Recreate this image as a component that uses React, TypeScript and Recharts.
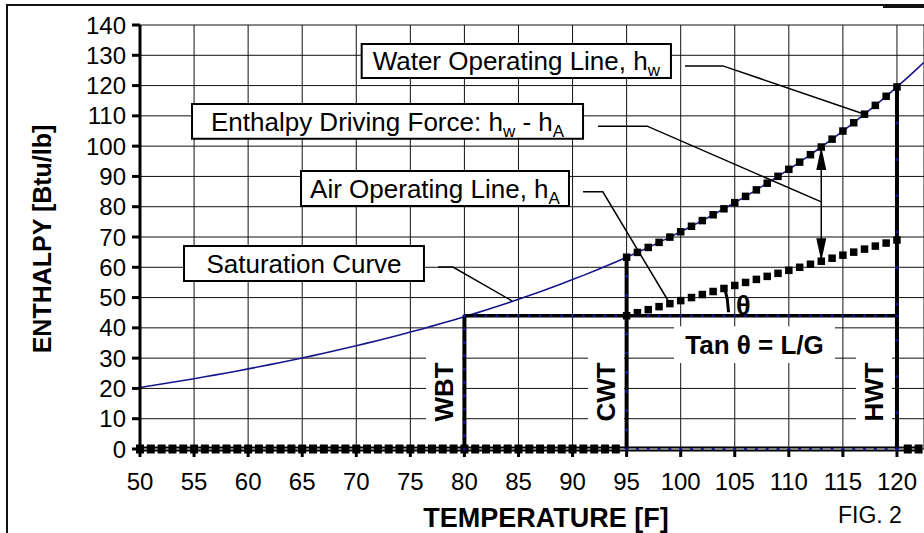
import React from 'react';
import { LineChart, Line, XAxis, YAxis, CartesianGrid, ReferenceArea, ReferenceDot, Label } from 'recharts';

const FONT = '"Liberation Sans", Arial, Helvetica, sans-serif';
const NAVY = '#16168c';

// temperature categories, deg F
const TEMPS = [
  50, 51, 52, 53, 54, 55, 56, 57, 58, 59, 60, 61, 62, 63, 64, 65, 66, 67, 68, 69,
  70, 71, 72, 73, 74, 75, 76, 77, 78, 79, 80, 81, 82, 83, 84, 85, 86, 87, 88, 89,
  90, 91, 92, 93, 94, 95, 96, 97, 98, 99, 100, 101, 102, 103, 104, 105, 106, 107, 108, 109,
  110, 111, 112, 113, 114, 115, 116, 117, 118, 119, 120, 121, 122,
];
const SAT_TEMPS = [...TEMPS, 122.5];
// saturation curve enthalpy, Btu/lb
const SAT_H = [
  20.3, 20.86, 21.44, 22.02, 22.61, 23.22, 23.84, 24.48, 25.12, 25.78,
  26.46, 27.15, 27.85, 28.57, 29.31, 30.06, 30.83, 31.62, 32.42, 33.25,
  34.09, 34.95, 35.83, 36.74, 37.66, 38.61, 39.57, 40.57, 41.58, 42.62,
  43.69, 44.78, 45.9, 47.04, 48.22, 49.43, 50.66, 51.93, 53.23, 54.56,
  55.93, 57.33, 58.78, 60.25, 61.77, 63.32, 64.92, 66.55, 68.23, 69.96,
  71.73, 73.55, 75.42, 77.34, 79.31, 81.34, 83.42, 85.56, 87.76, 90.03,
  92.34, 94.72, 97.18, 99.71, 102.31, 104.98, 107.73, 110.55, 113.46, 116.46,
  119.54, 122.7, 126.0, 127.7,
];

// water operating line, h_w
const WATER_T = [95, 96, 97, 98, 99, 100, 101, 102, 103, 104, 105, 106, 107, 108, 109, 110, 111, 112, 113, 114, 115, 116, 117, 118, 119, 120];
const WATER_H = [
  63.32, 64.92, 66.55, 68.23, 69.96, 71.73, 73.55, 75.42, 77.34, 79.31, 81.34, 83.42, 85.56,
  87.76, 90.03, 92.34, 94.72, 97.18, 99.71, 102.31, 104.98, 107.73, 110.55, 113.46, 116.46, 119.54,
];

// air operating line, h_A
const AIR_T = [95, 96, 97, 98, 99, 100, 101, 102, 103, 104, 105, 106, 107, 108, 109, 110, 111, 112, 113, 114, 115, 116, 117, 118, 119, 120];
const AIR_H = [44, 45, 46, 47, 48, 49, 50, 51, 52, 53, 54, 55, 56, 57, 58, 59, 60, 61, 62, 63, 64, 65, 66, 67, 68, 69];

const WBT = 80;
const CWT = 95;
const HWT = 120;
const WBT_H = 44;
const WBT_V_H = [0, 4.4, 8.8, 13.2, 17.6, 22, 26.4, 30.8, 35.2, 39.6, 44];
const CWT_V_H = [0, 6.3, 12.7, 19, 25.3, 31.7, 38, 44.3, 50.7, 57, 63.3];
const HWT_V_H = [0, 12, 23.9, 35.9, 47.8, 59.8, 71.7, 83.7, 95.6, 107.6, 119.5];

const X_TICKS = [50, 55, 60, 65, 70, 75, 80, 85, 90, 95, 100, 105, 110, 115, 120];
const Y_TICKS = [0, 10, 20, 30, 40, 50, 60, 70, 80, 90, 100, 110, 120, 130, 140];

const pts = (ts: number[], hs: number[]) => ts.map((t, i) => ({ t, h: hs[i] }));
const satData = pts(SAT_TEMPS, SAT_H);
const waterData = pts(WATER_T, WATER_H);
const airData = pts(AIR_T, AIR_H);
const baseData = TEMPS.map((t) => ({ t, h: 0 }));
const wbtLine = TEMPS.filter((t) => t >= WBT && t <= HWT).map((t) => ({ t, h: WBT_H }));
const vert = (t: number, hs: number[]) => hs.map((h) => ({ t, h }));

// annotation leaders (data coordinates)
const WATER_LEADER = [{ t: 100.4, h: 126.5 }, { t: 103.9, h: 126.5 }, { t: 117, h: 110.55 }];
const FORCE_LEADER = [{ t: 92.35, h: 106.6 }, { t: 96.9, h: 106.6 }, { t: 113, h: 81.6 }];
const AIR_LEADER = [{ t: 90.97, h: 84.9 }, { t: 92.8, h: 84.9 }, { t: 98.8, h: 49.2 }];
const SAT_LEADER = [{ t: 77.56, h: 60.1 }, { t: 78.94, h: 60.1 }, { t: 84.4, h: 48.9 }];
const ARROW = [{ t: 113, h: 99.71 }, { t: 113, h: 62 }];

const square = (prefix: string, size: number) => (p: any) => (
  <rect key={`${prefix}-${p.index}`} x={p.cx - size / 2} y={p.cy - size / 2} width={size} height={size} fill="#000" />
);
const blueDot = (prefix: string, only?: (t: number) => boolean) => (p: any) =>
  only && !only(p.payload.t) ? (
    <g key={`${prefix}-${p.index}`} />
  ) : (
    <circle key={`${prefix}-${p.index}`} cx={p.cx} cy={p.cy} r={1.6} fill={NAVY} />
  );
const baseSquare = (p: any) =>
  p.payload.t >= CWT && p.payload.t <= HWT ? (
    <g key={`bs-${p.index}`} />
  ) : (
    <rect key={`bs-${p.index}`} x={p.cx - 4} y={p.cy - 4.5} width={8} height={9} fill="#000" />
  );

const Sub = ({ children }: { children: string }) => (
  <tspan fontSize={17} dy={6}>
    {children}
  </tspan>
);

const boxLabel = (node: React.ReactNode, bold = false, rotate = false) => (props: any) => {
  const vb = props.viewBox;
  const cx = vb.x + vb.width / 2;
  const cy = vb.y + vb.height / 2;
  return (
    <text
      x={cx}
      y={cy}
      dy="0.36em"
      textAnchor="middle"
      fontFamily={FONT}
      fontSize={26}
      fontWeight={bold ? 'bold' : 'normal'}
      fill="#000"
      transform={rotate ? `rotate(-90 ${cx} ${cy})` : undefined}
    >
      {node}
    </text>
  );
};

const xTitle = (props: any) => {
  const vb = props.viewBox;
  return (
    <g fontFamily={FONT} fill="#000">
      <text x={vb.x + 406} y={vb.y + 78} textAnchor="middle" fontSize={27} fontWeight="bold">
        TEMPERATURE [F]
      </text>
      <text x={vb.x + 698} y={vb.y + 74} fontSize={23}>
        FIG. 2
      </text>
    </g>
  );
};

const yTitle = (props: any) => {
  const vb = props.viewBox;
  const cx = vb.x + 42;
  const cy = 239;
  return (
    <text x={cx} y={cy} dy="0.36em" textAnchor="middle" fontFamily={FONT} fontSize={25} fontWeight="bold" fill="#000" transform={`rotate(-90 ${cx} ${cy})`}>
      ENTHALPY [Btu/lb]
    </text>
  );
};

export default function App() {
  return (
    <div style={{ position: 'absolute', left: 0, top: 0, width: 924, height: 533, overflow: 'hidden', background: '#fff' }}>
      <div style={{ position: 'absolute', left: 6, top: 4, width: 930, height: 540, borderLeft: '2px solid #111', borderTop: '2px solid #111' }} />
      <div style={{ position: 'absolute', left: 883, top: 6, width: 45, height: 2, background: '#111' }} />
      <div style={{ position: 'absolute', left: 0, top: 0 }}>
        <LineChart width={924} height={533} margin={{ top: 25, right: 0, bottom: 0, left: 0 }}>
          <CartesianGrid stroke="#111" strokeWidth={1} />
          <XAxis
            type="number"
            dataKey="t"
            domain={[50, 122.5]}
            ticks={X_TICKS}
            interval={0}
            height={84}
            axisLine={false}
            tickLine={{ stroke: '#000', strokeWidth: 3 }}
            tickSize={8}
            tickMargin={16}
            tick={{ fontSize: 24, fill: '#000', fontFamily: FONT }}
          >
            <Label content={xTitle} />
          </XAxis>
          <YAxis
            type="number"
            domain={[0, 140]}
            ticks={Y_TICKS}
            interval={0}
            width={140}
            axisLine={{ stroke: '#000', strokeWidth: 3 }}
            tickLine={{ stroke: '#000', strokeWidth: 3 }}
            tickSize={8}
            tickMargin={6}
            tick={{ fontSize: 24, fill: '#000', fontFamily: FONT }}
          >
            <Label content={yTitle} />
          </YAxis>

          <ReferenceArea x1={70.5} x2={99.1} y1={122.5} y2={133.7} fill="#fff" fillOpacity={1} stroke="#000" strokeWidth={2}
            label={boxLabel(<>Water Operating Line, h<Sub>w</Sub></>)} />
          <ReferenceArea x1={54.81} x2={90.97} y1={102.4} y2={113.9} fill="#fff" fillOpacity={1} stroke="#000" strokeWidth={2}
            label={boxLabel(<>Enthalpy Driving Force: h<Sub>w</Sub><tspan dy={-6}> - h</tspan><Sub>A</Sub></>)} />
          <ReferenceArea x1={64.89} x2={89.67} y1={80.2} y2={91.8} fill="#fff" fillOpacity={1} stroke="#000" strokeWidth={2}
            label={boxLabel(<>Air Operating Line, h<Sub>A</Sub></>)} />
          <ReferenceArea x1={54.07} x2={76.26} y1={55.5} y2={67.0} fill="#fff" fillOpacity={1} stroke="#000" strokeWidth={2}
            label={boxLabel(<>Saturation Curve</>)} />
          <ReferenceArea x1={99.38} x2={114.27} y1={28.4} y2={40.5} fill="#fff" fillOpacity={1} stroke="none"
            label={boxLabel(<>Tan θ = L/G</>, true)} />
          <ReferenceArea x1={76.45} x2={79.78} y1={1.65} y2={36} fill="#fff" fillOpacity={1} stroke="none"
            label={boxLabel(<>WBT</>, true, true)} />
          <ReferenceArea x1={91.43} x2={94.76} y1={1.65} y2={36} fill="#fff" fillOpacity={1} stroke="none"
            label={boxLabel(<>CWT</>, true, true)} />
          <ReferenceArea x1={116.21} x2={119.54} y1={1.65} y2={36} fill="#fff" fillOpacity={1} stroke="none"
            label={boxLabel(<>HWT</>, true, true)} />

          <Line data={satData} dataKey="h" stroke={NAVY} strokeWidth={1.6} dot={false} isAnimationActive={false} />
          <Line data={baseData} dataKey="h" stroke="#000" strokeWidth={5} dot={baseSquare} isAnimationActive={false} />
          <Line data={baseData} dataKey="h" stroke="#fff" strokeWidth={1} dot={blueDot('bb', (t) => t >= CWT && t <= HWT)} isAnimationActive={false} />
          <Line data={wbtLine} dataKey="h" stroke="#000" strokeWidth={3.5} dot={blueDot('wl')} isAnimationActive={false} />
          <Line data={vert(WBT, WBT_V_H)} dataKey="h" stroke="#000" strokeWidth={4} dot={blueDot('wv')} isAnimationActive={false} />
          <Line data={vert(CWT, CWT_V_H)} dataKey="h" stroke="#000" strokeWidth={4} dot={blueDot('cv')} isAnimationActive={false} />
          <Line data={vert(HWT, HWT_V_H)} dataKey="h" stroke="#000" strokeWidth={4} dot={blueDot('hv')} isAnimationActive={false} />
          <Line data={waterData} dataKey="h" stroke="none" dot={square('w', 7.5)} isAnimationActive={false} />
          <Line data={airData} dataKey="h" stroke="none" dot={square('a', 7.5)} isAnimationActive={false} />

          <Line data={WATER_LEADER} dataKey="h" stroke="#000" strokeWidth={1.5} dot={false} isAnimationActive={false} />
          <Line data={FORCE_LEADER} dataKey="h" stroke="#000" strokeWidth={1.5} dot={false} isAnimationActive={false} />
          <Line data={AIR_LEADER} dataKey="h" stroke="#000" strokeWidth={1.5} dot={false} isAnimationActive={false} />
          <Line data={SAT_LEADER} dataKey="h" stroke="#000" strokeWidth={1.5} dot={false} isAnimationActive={false} />
          <Line data={ARROW} dataKey="h" stroke="#000" strokeWidth={1.5} dot={false} isAnimationActive={false} />

          <ReferenceDot x={ARROW[0].t} y={ARROW[0].h} shape={(p: any) => (
            <path d={`M ${p.cx} ${p.cy} L ${p.cx - 5} ${p.cy + 23} L ${p.cx + 5} ${p.cy + 23} Z`} fill="#000" />
          )} />
          <ReferenceDot x={ARROW[1].t} y={ARROW[1].h} shape={(p: any) => (
            <path d={`M ${p.cx} ${p.cy} L ${p.cx - 5} ${p.cy - 23} L ${p.cx + 5} ${p.cy - 23} Z`} fill="#000" />
          )} />
          <ReferenceDot x={CWT} y={WBT_H} shape={(p: any) => {
            const r = 102;
            const a0 = (2 * Math.PI) / 180;
            const a1 = (16.5 * Math.PI) / 180;
            return (
              <path
                d={`M ${p.cx + r * Math.cos(a0)} ${p.cy - r * Math.sin(a0)} A ${r} ${r} 0 0 0 ${p.cx + r * Math.cos(a1)} ${p.cy - r * Math.sin(a1)}`}
                fill="none"
                stroke="#000"
                strokeWidth={3}
              />
            );
          }} />
          <ReferenceDot x={105.8} y={47.6} shape={(p: any) => (
            <text x={p.cx} y={p.cy} dy="0.36em" textAnchor="middle" fontFamily={FONT} fontSize={27} fontWeight="bold" fill="#000">θ</text>
          )} />
        </LineChart>
      </div>
    </div>
  );
}
